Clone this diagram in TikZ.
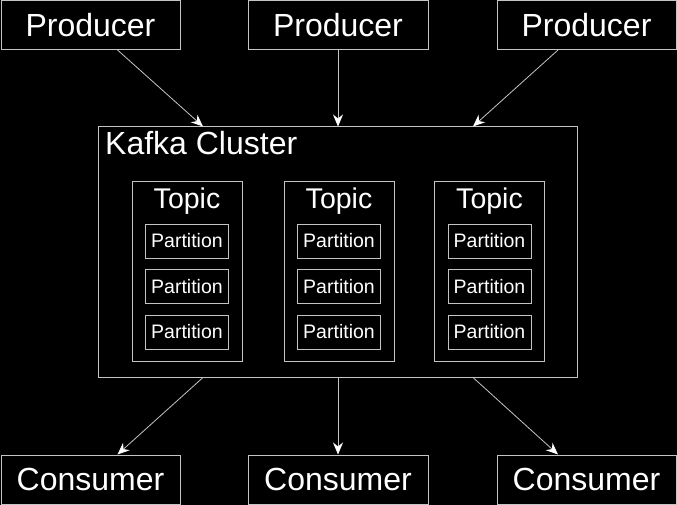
\documentclass[tikz,border=0pt]{standalone}
\usepackage{fontspec}
\setmainfont{Liberation Sans}
\usetikzlibrary{arrows.meta}
\definecolor{lg}{HTML}{C4C4C4}
\tikzset{
  box/.style={draw=lg, line width=1pt, text=white, inner sep=0pt, anchor=center},
  big/.style={box, font=\fontsize{32}{32}\selectfont, minimum height=49pt},
  topicbox/.style={box, minimum width=110pt, minimum height=179pt},
  partbox/.style={box, font=\fontsize{19.5}{19.5}\selectfont, minimum width=83pt, minimum height=34pt},
  arr/.style={draw=lg, line width=0.8pt, -{Stealth[length=12pt,width=10pt,inset=4pt,color=white]}},
  lbl/.style={text=white, inner sep=0pt}
}
\begin{document}
\begin{tikzpicture}[x=1pt,y=-1pt]
\fill[black] (0,0) rectangle (677,505);
\useasboundingbox (0,0) rectangle (677,505);
% producers
\node[big, minimum width=179pt] (p1) at (90.5,25) {Producer};
\node[big, minimum width=180pt] (p2) at (338,25) {Producer};
\node[big, minimum width=179pt] (p3) at (586.5,25) {Producer};
% consumers
\node[big, minimum width=179pt] (c1) at (90.5,479.5) {Consumer};
\node[big, minimum width=180pt] (c2) at (338,479.5) {Consumer};
\node[big, minimum width=179pt] (c3) at (586.5,479.5) {Consumer};
% cluster
\node[box, minimum width=479pt, minimum height=250pt] (cl) at (338,252) {};
\node[lbl, anchor=base west, font=\fontsize{32}{32}\selectfont] (cltitle) at (105,155) {Kafka Cluster};
% topics
\foreach \i/\x in {1/187, 2/339, 3/489.5} {
  \node[topicbox] (t\i) at (\x,271.5) {};
  \node[lbl, anchor=base, font=\fontsize{28.5}{28.5}\selectfont] (tl\i) at (\x,208) {Topic};
  \node[partbox] (t\i p1) at (\x,241) {Partition};
  \node[partbox] (t\i p2) at (\x,286.5) {Partition};
  \node[partbox] (t\i p3) at (\x,332) {Partition};
}
% arrows
\draw[arr] ([xshift=27pt]p1.south) -- ([xshift=-135pt]cl.north);
\draw[arr] (p2.south) -- (cl.north);
\draw[arr] ([xshift=-28.5pt]p3.south) -- ([xshift=135pt]cl.north);
\draw[arr] ([xshift=-135pt]cl.south) -- ([xshift=27pt]c1.north);
\draw[arr] (cl.south) -- (c2.north);
\draw[arr] ([xshift=135pt]cl.south) -- ([xshift=-28.5pt]c3.north);
\end{tikzpicture}
\end{document}
